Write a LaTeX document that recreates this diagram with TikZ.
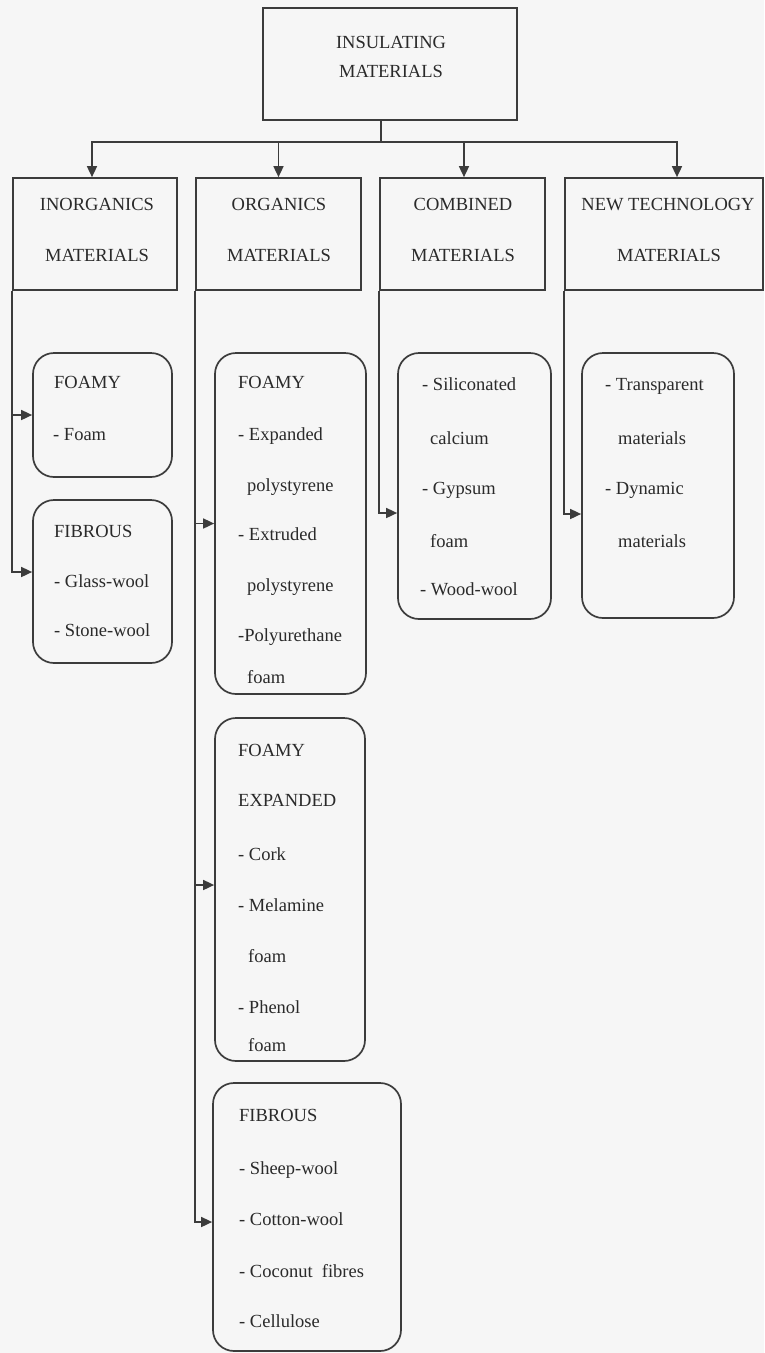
\documentclass[tikz,border=0pt]{standalone}
\usepackage{fontspec}
\setmainfont{Liberation Serif}
\usetikzlibrary{arrows.meta}
\definecolor{bgc}{HTML}{F6F6F6}
\definecolor{linec}{HTML}{3C3C3C}
\definecolor{textc}{HTML}{2A2A2A}
\newcommand{\fsz}{\fontsize{18.5}{22}\selectfont}
\tikzset{
  box/.style={draw=linec, line width=1.7pt, inner sep=0pt},
  rbox/.style={box, rounded corners=21pt},
  txt/.style={text=textc, font=\fsz, anchor=base west, inner sep=0pt},
  ctxt/.style={txt, anchor=base},
  ln/.style={draw=linec, line width=1.6pt},
  arr/.style={ln, -{Triangle[length=11pt,width=10pt]}}
}
\begin{document}
\begin{tikzpicture}[x=1pt,y=-1pt]
\fill[bgc] (0,0) rectangle (764,1353);
\useasboundingbox (0,0) rectangle (764,1353);

% boxes
\node[box, minimum width=254pt, minimum height=112pt] (top) at (390,64) {};
\node[box, minimum width=164pt, minimum height=112pt] (cat1) at (95,234) {};
\node[box, minimum width=165pt, minimum height=112pt] (cat2) at (278.5,234) {};
\node[box, minimum width=165pt, minimum height=112pt] (cat3) at (462.5,234) {};
\node[box, minimum width=198pt, minimum height=112pt] (cat4) at (664,234) {};

\node[rbox, minimum width=139pt, minimum height=124pt] (ifoam) at (102.5,415) {};
\node[rbox, minimum width=139pt, minimum height=163pt] (ifib) at (102.5,581.5) {};
\node[rbox, minimum width=151pt, minimum height=341pt] (ofoam) at (290.5,523.5) {};
\node[rbox, minimum width=150pt, minimum height=343pt] (oexp) at (290,889.5) {};
\node[rbox, minimum width=188pt, minimum height=268pt] (ofib) at (307,1217) {};
\node[rbox, minimum width=153pt, minimum height=266pt] (comb) at (474.5,486) {};
\node[rbox, minimum width=152pt, minimum height=265pt] (newt) at (658,485.5) {};

% titles
\node[ctxt] (tt1) at (391,48) {INSULATING};
\node[ctxt] (tt2) at (391,77) {MATERIALS};
\node[ctxt] (c1a) at (97,210) {INORGANICS};
\node[ctxt] (c1b) at (97,261) {MATERIALS};
\node[ctxt] (c2a) at (279,210) {ORGANICS};
\node[ctxt] (c2b) at (279,261) {MATERIALS};
\node[ctxt] (c3a) at (463,210) {COMBINED};
\node[ctxt] (c3b) at (463,261) {MATERIALS};
\node[ctxt] (c4a) at (668,210) {NEW TECHNOLOGY};
\node[ctxt] (c4b) at (669,261) {MATERIALS};

% lists
\foreach \x/\y/\s [count=\i] in {54/388/FOAMY, 53/440/- Foam}
  \node[txt] (ifoamT\i) at (\x,\y) {\s};
\foreach \x/\y/\s [count=\i] in {54/537/FIBROUS, 54/587/- Glass-wool, 54/636/- Stone-wool}
  \node[txt] (ifibT\i) at (\x,\y) {\s};
\foreach \x/\y/\s [count=\i] in {238/388/FOAMY, 238/440/- Expanded, 247/491/polystyrene, 238/540/- Extruded, 247/591/polystyrene, 238/641/-Polyurethane, 247/683/foam}
  \node[txt] (ofoamT\i) at (\x,\y) {\s};
\foreach \x/\y/\s [count=\i] in {238/756/FOAMY, 238/806/EXPANDED, 238/860/- Cork, 238/911/- Melamine, 248/962/foam, 238/1013/- Phenol, 248/1051/foam}
  \node[txt] (oexpT\i) at (\x,\y) {\s};
\foreach \x/\y/\s [count=\i] in {239/1121/FIBROUS, 239/1174/- Sheep-wool, 239/1225/- Cotton-wool, 239/1277/- Coconut\ \ fibres, 239/1327/- Cellulose}
  \node[txt] (ofibT\i) at (\x,\y) {\s};
\foreach \x/\y/\s [count=\i] in {422/390/- Siliconated, 430/444/calcium, 422/494/- Gypsum, 430/547/foam, 420/595/- Wood-wool}
  \node[txt] (combT\i) at (\x,\y) {\s};
\foreach \x/\y/\s [count=\i] in {605/390/- Transparent, 618/444/materials, 605/494/- Dynamic, 618/547/materials}
  \node[txt] (newtT\i) at (\x,\y) {\s};

% connectors
\coordinate (hub) at (381,142);
\draw[ln] (hub |- top.south) -- (hub);
\draw[arr] (hub) -| ([xshift=-3pt]cat1.north);
\draw[arr] (hub) -| (cat2.north);
\draw[arr] (hub) -| ([xshift=1.5pt]cat3.north);
\draw[arr] (hub) -| ([xshift=13pt]cat4.north);

\draw[arr] (cat1.south west) |- (ifoam.west);
\draw[arr] (cat1.south west) |- ([yshift=9.5pt]ifib.west);
\draw[arr] (cat2.south west) |- (ofoam.west);
\draw[arr] (cat2.south west) |- ([yshift=4.5pt]oexp.west);
\draw[arr] (cat2.south west) |- ([yshift=-5pt]ofib.west);
\draw[arr] (cat3.south west) |- ([yshift=-27pt]comb.west);
\draw[arr] (cat4.south west) |- ([yshift=-28.5pt]newt.west);
\end{tikzpicture}
\end{document}
